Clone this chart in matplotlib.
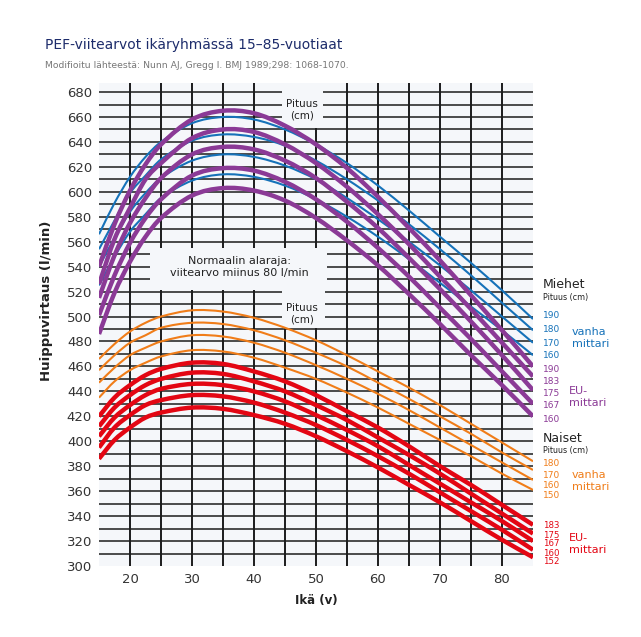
import matplotlib.pyplot as plt
from matplotlib.patches import Rectangle, PathPatch
from matplotlib.path import Path

plt.rcParams['font.family'] = ['DejaVu Sans']

ages = [15, 17.5, 20, 22.5, 25, 30, 35, 40, 45, 50, 55, 60, 65, 70, 75, 80, 85]

# Miehet, vanha mittari (pituus 190, 180, 170, 160)
men_old_h = ["190", "180", "170", "160"]
men_old = [
    [566, 591, 612, 628, 640, 655, 660, 658, 650, 638, 623, 605, 585, 564, 543, 521, 498],
    [554, 577, 599, 613, 626, 641, 646, 644, 637, 625, 610, 593, 574, 554, 533, 511, 489],
    [540, 563, 584, 599, 611, 625, 630, 628, 621, 610, 595, 578, 560, 541, 521, 500, 479],
    [525, 548, 568, 582, 595, 609, 614, 612, 605, 594, 580, 564, 546, 527, 508, 489, 469],
]
# Miehet, EU-mittari (pituus 190, 183, 175, 167, 160)
men_eu_h = ["190", "183", "175", "167", "160"]
men_eu = [
    [540, 574, 601, 622, 638, 658, 665, 663, 653, 638, 619, 596, 571, 545, 517, 489, 460],
    [526, 562, 587, 610, 623, 643, 650, 648, 638, 623, 604, 582, 558, 532, 506, 479, 452],
    [515, 549, 575, 595, 611, 630, 636, 634, 625, 611, 592, 571, 547, 522, 496, 469, 441],
    [501, 533, 559, 579, 594, 613, 619, 617, 608, 594, 576, 555, 532, 507, 482, 456, 430],
    [486, 519, 544, 564, 579, 597, 603, 601, 593, 579, 561, 541, 518, 494, 469, 445, 420],
]
# Naiset, vanha mittari (pituus 180, 170, 160, 150)
women_old_h = ["180", "170", "160", "150"]
women_old = [
    [466, 478, 488, 495, 500, 505, 504, 499, 491, 481, 469, 456, 443, 429, 414, 399, 384],
    [457, 469, 479, 485, 491, 495, 494, 489, 481, 471, 460, 447, 434, 420, 406, 391, 377],
    [447, 459, 469, 475, 480, 485, 484, 479, 471, 461, 450, 438, 425, 411, 397, 383, 369],
    [435, 448, 457, 463, 468, 473, 472, 467, 459, 450, 439, 427, 414, 401, 388, 374, 361],
]
# Naiset, EU-mittari (pituus 183, 175, 167, 160, 152)
women_eu_h = ["183", "175", "167", "160", "152"]
women_eu = [
    [420, 435, 445, 453, 458, 463, 462, 456, 448, 437, 424, 411, 396, 380, 365, 349, 333],
    [412, 427, 437, 445, 450, 455, 454, 448, 440, 429, 417, 403, 389, 374, 358, 342, 326],
    [404, 419, 429, 437, 442, 446, 445, 440, 432, 421, 409, 396, 381, 366, 351, 336, 320],
    [395, 411, 421, 429, 433, 437, 436, 431, 423, 413, 401, 388, 374, 359, 344, 329, 313],
    [386, 401, 411, 419, 423, 427, 426, 421, 414, 404, 392, 379, 365, 351, 336, 321, 307],
]

y_ticks = list(range(300, 681, 20))
x_ticks = list(range(20, 81, 10))

BLUE = "#1672b9"
PURPLE = "#8b3a96"
ORANGE = "#f07d19"
RED = "#e30613"
BG = "#f5f7fa"
GRID = "#1c1c1c"

W, H = 641, 637
fig = plt.figure(figsize=(W / 100, H / 100), dpi=100)
fig.patch.set_facecolor("white")


def fx(px):
    return px / W


def fy(py):
    return 1 - py / H


def smooth_line(ax, xs, ys, color, lw, z):
    # pehmeä käyrä pisteiden kautta (Bezier-polku)
    n = len(xs)
    m = []
    for i in range(n):
        a = max(i - 1, 0)
        b = min(i + 1, n - 1)
        m.append((ys[b] - ys[a]) / (xs[b] - xs[a]))
    verts = [(xs[0], ys[0])]
    codes = [Path.MOVETO]
    for i in range(n - 1):
        h = xs[i + 1] - xs[i]
        verts += [(xs[i] + h / 3, ys[i] + m[i] * h / 3),
                  (xs[i + 1] - h / 3, ys[i + 1] - m[i + 1] * h / 3),
                  (xs[i + 1], ys[i + 1])]
        codes += [Path.CURVE4] * 3
    ax.add_patch(PathPatch(Path(verts, codes), facecolor="none", edgecolor=color,
                           lw=lw, zorder=z, capstyle="butt"))


ax = fig.add_axes([fx(99), fy(566), fx(533) - fx(99), fy(82.7) - fy(566)])
ax.set_facecolor(BG)
ax.set_xlim(15, 85)
ax.set_ylim(300, 687.5)
for s in ax.spines.values():
    s.set_visible(False)

# ruudukko
for v in range(310, 681, 10):
    ax.axhline(v, color=GRID, lw=1.1, zorder=1)
for a in range(20, 81, 5):
    ax.axvline(a, color=GRID, lw=1.4, zorder=1)

# laatikot jotka peittävät ruudukon
for (x0, y0, w, h) in [(23.2, 521, 28.6, 34), (44.5, 650.8, 6.7, 40), (44.5, 491, 7.0, 30)]:
    ax.add_patch(Rectangle((x0, y0), w, h, facecolor=BG, edgecolor="none", zorder=2))

ax.text(37.7, 540, "Normaalin alaraja:\nviitearvo miinus 80 l/min", ha="center", va="center",
        fontsize=8, color="#222222", linespacing=1.25, zorder=2.5)
ax.text(47.8, 665.5, "Pituus\n(cm)", ha="center", va="center", fontsize=7.5,
        color="#222222", linespacing=1.2, zorder=2.5)
ax.text(47.8, 502, "Pituus\n(cm)", ha="center", va="center", fontsize=7.5,
        color="#222222", linespacing=1.2, zorder=2.5)

for vals in men_old:
    smooth_line(ax, ages, vals, BLUE, 1.5, 3)
for vals in men_eu:
    smooth_line(ax, ages, vals, PURPLE, 3.2, 4)
for vals in women_old:
    smooth_line(ax, ages, vals, ORANGE, 1.5, 3)
for vals in women_eu:
    smooth_line(ax, ages, vals, RED, 3.2, 4)

ax.set_yticks(y_ticks)
ax.set_xticks(x_ticks)
ax.tick_params(length=0, labelsize=9.5, labelcolor="#333333", pad=5)
ax.set_xlabel("Ikä (v)", fontsize=8.5, fontweight="bold", color="#222222", labelpad=6)
fig.text(fx(47), fy(301), "Huippuvirtaus (l/min)", rotation=90, fontsize=9.5,
         fontweight="bold", color="#222222", ha="center", va="center")

# otsikot
fig.text(fx(45), fy(45), "PEF-viitearvot ikäryhmässä 15–85-vuotiaat", fontsize=10,
         color="#1d2c6b", va="center", ha="left")
fig.text(fx(45), fy(66), "Modifioitu lähteestä: Nunn AJ, Gregg I. BMJ 1989;298: 1068-1070.",
         fontsize=6.7, color="#777777", va="center", ha="left")

# oikean reunan selitteet
fig.text(fx(543), fy(285), "Miehet", fontsize=9, color="#222222", va="center")
fig.text(fx(543), fy(297), "Pituus (cm)", fontsize=5.8, color="#222222", va="center")
for lab, py in zip(men_old_h, [316, 330, 343, 356]):
    fig.text(fx(543), fy(py), lab, fontsize=6.5, color=BLUE, va="center")
fig.text(fx(572), fy(338), "vanha\nmittari", fontsize=8, color=BLUE, va="center", linespacing=1.3)
for lab, py in zip(men_eu_h, [370, 382, 394, 406, 419]):
    fig.text(fx(543), fy(py), lab, fontsize=6.5, color=PURPLE, va="center")
fig.text(fx(569), fy(397), "EU-\nmittari", fontsize=8, color=PURPLE, va="center", linespacing=1.3)

fig.text(fx(543), fy(438), "Naiset", fontsize=9, color="#222222", va="center")
fig.text(fx(543), fy(451), "Pituus (cm)", fontsize=5.8, color="#222222", va="center")
for lab, py in zip(women_old_h, [464, 475, 486, 496]):
    fig.text(fx(543), fy(py), lab, fontsize=6.5, color=ORANGE, va="center")
fig.text(fx(572), fy(481), "vanha\nmittari", fontsize=8, color=ORANGE, va="center", linespacing=1.3)
for lab, py in zip(women_eu_h, [526, 535, 544, 553, 562]):
    fig.text(fx(543), fy(py), lab, fontsize=6.2, color=RED, va="center")
fig.text(fx(569), fy(544), "EU-\nmittari", fontsize=8, color=RED, va="center", linespacing=1.3)

fig.savefig("out.png", dpi=100)
